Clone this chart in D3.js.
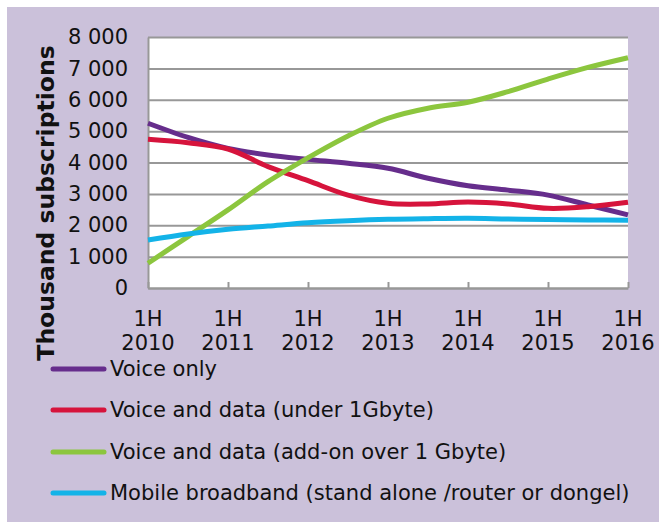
<!DOCTYPE html>
<html>
<head>
<meta charset="utf-8">
<script src="https://cdn.jsdelivr.net/npm/d3@7"></script>
<style>
  body { margin: 0; background: #ffffff; }
  text { font-family: "DejaVu Sans", Verdana, sans-serif; fill: #111; }
</style>
</head>
<body>
<div id="chart"></div>
<script>
// Half-year periods, 1H 2010 .. 1H 2016
var periods = [2010, 2010.5, 2011, 2011.5, 2012, 2012.5, 2013, 2013.5, 2014, 2014.5, 2015, 2015.5, 2016];
var tickYears = [2010, 2011, 2012, 2013, 2014, 2015, 2016];
var yTicks = [0, 1000, 2000, 3000, 4000, 5000, 6000, 7000, 8000];

var voiceOnly       = [5250, 4800, 4450, 4240, 4100, 3975, 3815, 3500, 3260, 3120, 2960, 2645, 2330];
var voiceDataUnder  = [4740, 4630, 4430, 3870, 3420, 2960, 2700, 2680, 2740, 2680, 2540, 2590, 2730];
var voiceDataOver   = [790, 1640, 2490, 3390, 4150, 4845, 5410, 5730, 5920, 6260, 6660, 7030, 7340];
var mobileBroadband = [1530, 1720, 1870, 1975, 2080, 2145, 2190, 2210, 2220, 2200, 2185, 2170, 2160];

var seriesNames = [
    "Voice only",
    "Voice and data (under 1Gbyte)",
    "Voice and data (add-on over 1 Gbyte)",
    "Mobile broadband (stand alone /router or dongel)"
];
var seriesColors = ["#662d8c", "#d6143c", "#8cc63e", "#13b3e8"];
var seriesValues = [voiceOnly, voiceDataUnder, voiceDataOver, mobileBroadband];

var svgWidth = 659, svgHeight = 522;
var margin = { top: 37, left: 148, right: 31, bottom: 234 };
var width = svgWidth - margin.left - margin.right;
var height = svgHeight - margin.top - margin.bottom;

var svg = d3.select("#chart").append("svg")
    .attr("width", svgWidth)
    .attr("height", svgHeight);

// lavender panel
svg.append("rect")
    .attr("x", 7).attr("y", 7)
    .attr("width", svgWidth - 7).attr("height", svgHeight - 7)
    .attr("fill", "#cbc1da");

var chartGroup = svg.append("g")
    .attr("transform", `translate(${margin.left}, ${margin.top})`);

chartGroup.append("rect")
    .attr("width", width).attr("height", height)
    .attr("fill", "#ffffff");

var x = d3.scaleLinear().domain([2010, 2016]).range([0, width]);
var y = d3.scaleLinear().domain([0, 8000]).range([height, 0]);

var spaceFmt = d3.formatLocale({ decimal: ".", thousands: " ", grouping: [3], currency: ["", ""] }).format(",");

// gridlines
var grid = chartGroup.append("g")
    .call(d3.axisLeft(y).tickValues(yTicks).tickSize(-width).tickFormat(""));
grid.select(".domain").remove();
grid.selectAll("line").attr("stroke", "#989898").attr("stroke-width", 2);

// y axis labels
var yAxis = chartGroup.append("g")
    .call(d3.axisLeft(y).tickValues(yTicks).tickSize(0).tickPadding(20).tickFormat(spaceFmt));
yAxis.select(".domain").attr("stroke", "#989898").attr("stroke-width", 2);
yAxis.selectAll("text")
    .style("font-family", "DejaVu Sans, Verdana, sans-serif")
    .style("font-size", "21px")
    .attr("fill", "#111");

// x axis with ticks pointing up
var xAxis = chartGroup.append("g")
    .attr("transform", `translate(0, ${height})`)
    .call(d3.axisBottom(x).tickValues(tickYears).tickSizeInner(-6).tickSizeOuter(0).tickFormat(""));
xAxis.select(".domain").attr("stroke", "#989898").attr("stroke-width", 2);
xAxis.selectAll("line").attr("stroke", "#989898").attr("stroke-width", 2);

var xLabels = chartGroup.append("g")
    .attr("transform", `translate(0, ${height})`)
    .selectAll("text")
    .data(tickYears)
    .enter()
    .append("text")
    .attr("text-anchor", "middle")
    .style("font-size", "21px");
xLabels.append("tspan").attr("x", d => x(d)).attr("y", 38).text("1H");
xLabels.append("tspan").attr("x", d => x(d)).attr("y", 62).text(d => d);

// lines
var line = d3.line()
    .x((d, i) => x(periods[i]))
    .y(d => y(d))
    .curve(d3.curveCatmullRom.alpha(0.5));

chartGroup.selectAll(".series")
    .data(seriesValues)
    .enter()
    .append("path")
    .attr("class", "series")
    .attr("d", d => line(d))
    .attr("fill", "none")
    .attr("stroke", (d, i) => seriesColors[i])
    .attr("stroke-width", 5);

// y axis title
svg.append("text")
    .attr("transform", "translate(54, 203) rotate(-90)")
    .attr("text-anchor", "middle")
    .style("font-size", "23.5px")
    .style("font-weight", "bold")
    .attr("fill", "#000")
    .text("Thousand subscriptions");

// legend
var legend = svg.append("g");
var legendY = [369, 410, 452, 493];
var items = legend.selectAll("g")
    .data(seriesNames)
    .enter()
    .append("g")
    .attr("transform", (d, i) => `translate(0, ${legendY[i]})`);
items.append("line")
    .attr("x1", 53).attr("x2", 104)
    .attr("stroke", (d, i) => seriesColors[i])
    .attr("stroke-width", 5)
    .attr("stroke-linecap", "round");
items.append("text")
    .attr("x", 110)
    .attr("dy", "0.35em")
    .style("font-size", "21px")
    .text(d => d);
</script>
</body>
</html>
